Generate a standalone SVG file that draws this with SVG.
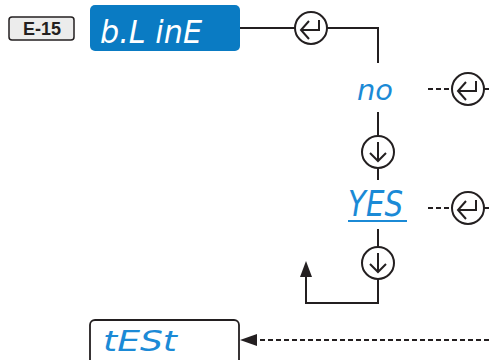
<svg xmlns="http://www.w3.org/2000/svg" width="489" height="360" viewBox="0 0 489 360">
<defs>
<style>
.ln{fill:none;stroke:#231f20;stroke-width:2}
.ds{fill:none;stroke:#231f20;stroke-width:2;stroke-dasharray:5 3}
.cir{fill:#fff;stroke:#231f20;stroke-width:2}
.ic{fill:none;stroke:#231f20;stroke-width:2;stroke-linejoin:miter}
.seg{font-family:"DejaVu Sans","Liberation Sans",sans-serif;font-style:italic;fill:#1b8ad6}
.segw{font-family:"DejaVu Sans","Liberation Sans",sans-serif;font-style:italic;fill:#ffffff}
</style>
<g id="enter">
<circle class="cir" cx="0" cy="0" r="16"/>
<path class="ic" d="M8,-8 V2 H-10 M-2,-7 L-10,2 L-2,11"/>
</g>
<g id="down">
<circle class="cir" cx="0" cy="0" r="16"/>
<path class="ic" d="M0,-10 V9 M-8,1 L0,9 L8,1"/>
</g>
</defs>
<rect width="489" height="360" fill="#fff"/>
<g id="connectors">
<path class="ln" d="M240,28 H378 V63"/>
<path class="ln" d="M378,112 V180"/>
<path class="ln" d="M378,229 V303 H306 V276"/>
<path d="M306,261 L300,277 H312 Z" fill="#231f20"/>
<path class="ds" d="M428,89 H452"/>
<path class="ln" d="M484,89 H489"/>
<path class="ds" d="M428,208 H452"/>
<path class="ln" d="M484,208 H489"/>
<path class="ds" d="M489,340 H256"/>
<path d="M240,340 L257,334 V346 Z" fill="#231f20"/>
</g>
<g id="label-e15">
<rect x="9" y="17" width="65" height="23" rx="3" fill="#ececec" stroke="#231f20" stroke-width="1.5"/>
<text x="42" y="35" text-anchor="middle" font-family="Liberation Sans, Arial, sans-serif" font-weight="bold" font-size="18" fill="#231f20">E-15</text>
</g>
<g id="node-bline">
<rect x="90" y="5" width="150" height="46" rx="5" fill="#0a7bc3"/>
<text class="segw" x="100" y="43" font-size="32" textLength="102" lengthAdjust="spacingAndGlyphs">b.L inE</text>
</g>
<g id="enter-top"><use href="#enter" x="311" y="28"/></g>
<g id="node-no">
<text class="seg" x="357" y="100" font-size="28" textLength="36" lengthAdjust="spacingAndGlyphs">no</text>
</g>
<g id="enter-no"><use href="#enter" x="468" y="89"/></g>
<g id="down-1"><use href="#down" x="378" y="152"/></g>
<g id="node-yes">
<text class="seg" x="348" y="216" font-size="35" textLength="55" lengthAdjust="spacingAndGlyphs">YES</text>
<rect x="348" y="220" width="59" height="2" fill="#1b8ad6"/>
</g>
<g id="enter-yes"><use href="#enter" x="468" y="208"/></g>
<g id="down-2"><use href="#down" x="378" y="263"/></g>
<g id="node-test">
<rect x="90" y="320" width="149" height="50" rx="5" fill="#fff" stroke="#231f20" stroke-width="1.8"/>
<text class="seg" x="103" y="351" font-size="28" textLength="74" lengthAdjust="spacingAndGlyphs">tESt</text>
</g>
</svg>
